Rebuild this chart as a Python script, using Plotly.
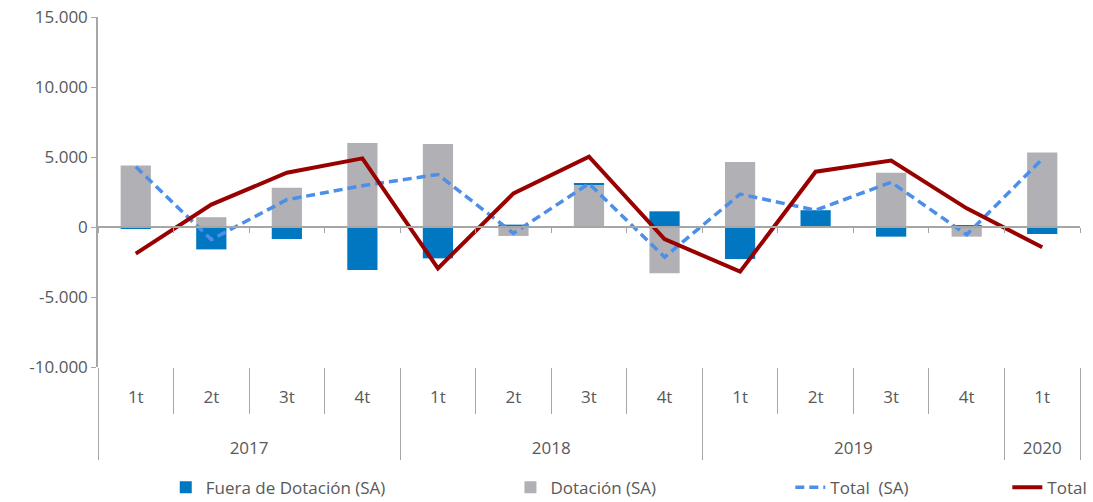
import plotly.graph_objects as go

years = ["2017"] * 4 + ["2018"] * 4 + ["2019"] * 4 + ["2020"]
quarters = ["1t", "2t", "3t", "4t"] * 3 + ["1t"]

fuera_sa = [-100, -1600, -860, -3070, -2240, 170, 100, 1120, -2290, 1140, -690, 140, -500]
dotacion_sa = [4400, 700, 2800, 6000, 5930, -640, 3000, -3310, 4640, 60, 3880, -690, 5330]
total_sa = [4300, -900, 1950, 2950, 3750, -450, 3100, -2150, 2350, 1200, 3200, -550, 4850]
total = [-1900, 1600, 3880, 4900, -2950, 2400, 5020, -860, -3190, 3950, 4740, 1330, -1450]

y_tickvals = [-10000, -5000, 0, 5000, 10000, 15000]
y_ticktext = ["-10.000", "-5.000", "0", "5.000", "10.000", "15.000"]

# year labels pushed down two lines to sit in the lower band
year_labels = ["<br><br>" + y for y in years]
x = [year_labels, quarters]
FONT = "Open Sans"
TXT = "#595959"
AX = "#A6A6A6"

fig = go.Figure()
fig.add_trace(go.Bar(x=x, y=dotacion_sa, name="Dotación (SA)", marker=dict(color="#B1B1B5", line=dict(width=0)),
                     legend="legend3"))
fig.add_trace(go.Bar(x=x, y=fuera_sa, name="Fuera de Dotación (SA)", marker=dict(color="#0077C0", line=dict(width=0)),
                     legend="legend2"))
fig.add_trace(go.Scatter(x=x, y=total_sa, name="Total  (SA)", mode="lines",
                         line=dict(color="#4B8FE8", width=3.5, dash="9px,5px"), legend="legend4"))
fig.add_trace(go.Scatter(x=x, y=total, name="Total", mode="lines",
                         line=dict(color="#990000", width=4), legend="legend5"))
# empty helper trace so the zero-level axis is drawn
fig.add_trace(go.Scatter(x=[], y=[], xaxis="x2", showlegend=False, hoverinfo="skip"))

leg_common = dict(orientation="h", yanchor="middle", y=-0.345, xanchor="left",
                  font=dict(family=FONT, size=17, color=TXT), bgcolor="rgba(0,0,0,0)")

fig.update_layout(
    width=1093, height=502,
    margin=dict(l=98, r=13, t=17, b=135, autoexpand=False),
    paper_bgcolor="white", plot_bgcolor="white",
    barmode="relative", bargap=0.6,
    font=dict(family=FONT, size=17, color=TXT),
    showlegend=True,
    legend2=dict(x=0.069, **leg_common),
    legend3=dict(x=0.42, **leg_common),
    legend4=dict(x=0.705, **leg_common),
    legend5=dict(x=0.926, **leg_common),
    yaxis=dict(range=[-10000, 15000], tickvals=y_tickvals, ticktext=y_ticktext, automargin=False,
               showgrid=False, zeroline=False, showline=True, linecolor=AX, linewidth=1.5,
               ticks="outside", ticklen=5, tickcolor=AX,
               tickfont=dict(family=FONT, size=17, color=TXT)),
    xaxis=dict(type="multicategory", showgrid=False, showline=False, zeroline=False, automargin=False,
               ticks="outside", tickson="boundaries", ticklen=46, tickcolor=AX, tickwidth=1,
               ticklabelstandoff=18,
               showdividers=True, dividercolor=AX, dividerwidth=1,
               tickfont=dict(family=FONT, size=17, color=TXT)),
    xaxis2=dict(overlaying="x", anchor="free", position=0.4, range=[-0.5, 12.5],
                tickmode="linear", tick0=-0.5, dtick=1, showticklabels=False, automargin=False,
                showline=True, linecolor=AX, linewidth=1.5, ticks="outside", ticklen=5,
                tickcolor=AX, showgrid=False, zeroline=False),
)

fig.write_html("out.html", config={"displayModeBar": False},
               post_script="document.body.style.margin='0';")
